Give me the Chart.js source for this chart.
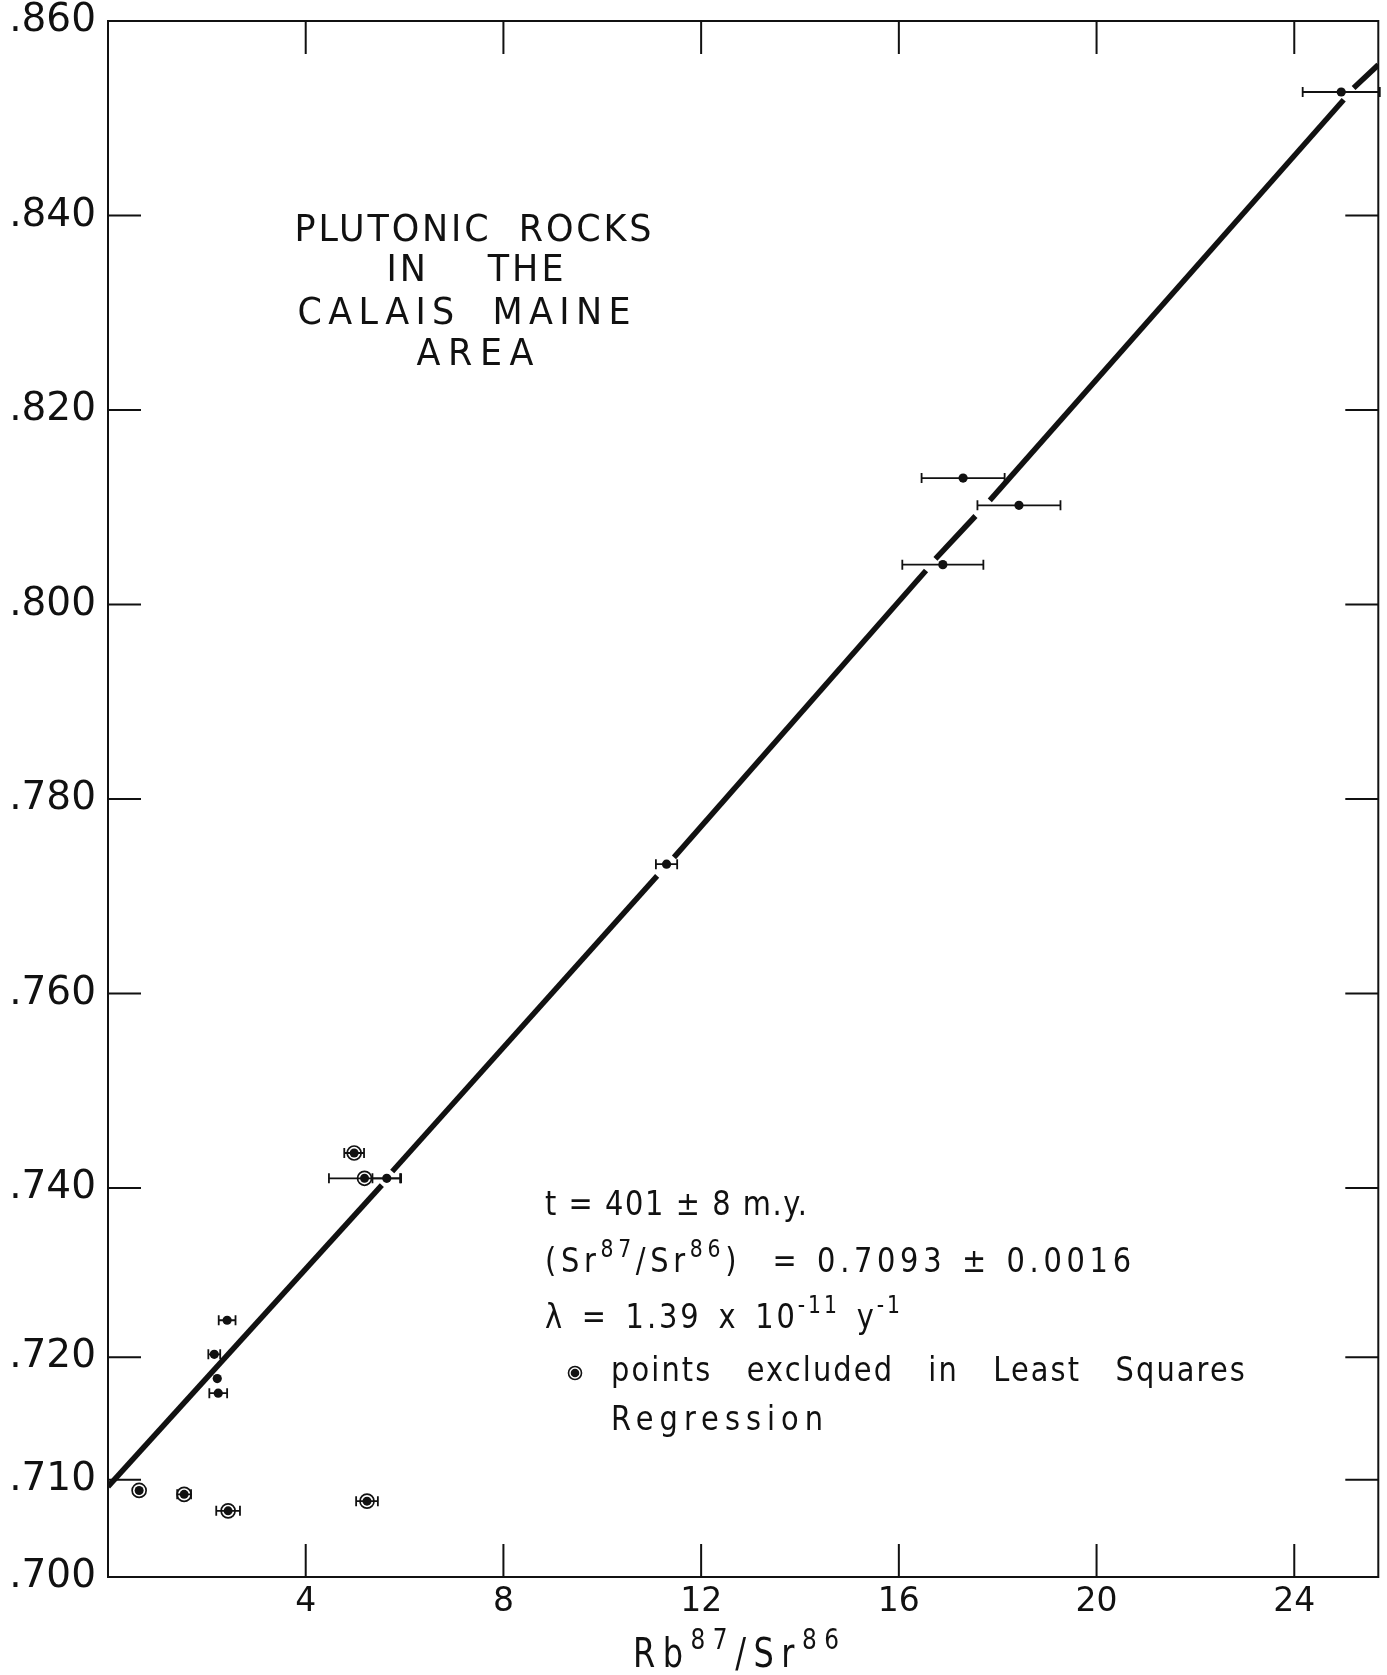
<!DOCTYPE html>
<html>
<head>
<meta charset="utf-8">
<script src="https://cdn.jsdelivr.net/npm/chart.js@4.4.1/dist/chart.umd.min.js"></script>
<style>
  html, body { margin: 0; padding: 0; background: #fff; }
  canvas { display: block; }
</style>
</head>
<body>
<canvas id="isochron" width="1387" height="1675"></canvas>
<script>
// Rb87/Sr86 vs Sr87/Sr86 isochron - plutonic rocks, Calais, Maine

// axis ticks (the .720 tick sits a little high on the original drawing)
const yTickValues = [0.700, 0.710, 0.7226, 0.740, 0.760, 0.780, 0.800, 0.820, 0.840, 0.860];
const yTickLabels = ['.700', '.710', '.720', '.740', '.760', '.780', '.800', '.820', '.840', '.860'];
const xTickValues = [4, 8, 12, 16, 20, 24];
const xTickLabels = ['4', '8', '12', '16', '20', '24'];

// samples used in the regression
const usedX   = [24.95, 17.30, 18.43, 16.89, 11.30, 5.64, 2.41, 2.15, 2.21, 2.23];
const usedY   = [0.8527, 0.8130, 0.8102, 0.8041, 0.7733, 0.7410, 0.7264, 0.7229, 0.7204, 0.7189];
const usedErr = [0.78, 0.84, 0.84, 0.82, 0.215, 0.29, 0.17, 0.12, 0, 0.18];

// samples left out of the least squares fit
const exclX   = [0.63, 1.54, 2.43, 4.98, 5.19, 5.24];
const exclY   = [0.7089, 0.7085, 0.7068, 0.7436, 0.7410, 0.7078];
const exclErr = [0, 0.14, 0.24, 0.20, 0.72, 0.22];

// fitted isochron, drawn in pieces (the original leaves gaps near some points)
const fitFromX = [0, 5.75, 11.45, 16.74, 17.84, 25.2];
const fitFromY = [0.7093, 0.7417, 0.7740, 0.8047, 0.8107, 0.8531];
const fitToX   = [5.54, 11.11, 16.55, 17.55, 25.0, 25.7];
const fitToY   = [0.7403, 0.7721, 0.8035, 0.8091, 0.8519, 0.8555];

// text on the plot
const titleLines = ['PLUTONIC ROCKS', 'IN THE', 'CALAIS MAINE', 'AREA'];
const noteLines = [
  [['t = 401 ± 8 m.y.']],
  [['(Sr'], ['87', true], ['/Sr'], ['86', true], [')  = 0.7093 ± 0.0016']],
  [['λ = 1.39 x 10'], ['-11', true], [' y'], ['-1', true]],
  [['points excluded in Least Squares']],
  [['Regression']]
];
const xTitle = [['Rb'], ['87', true], ['/Sr'], ['86', true]];

const INK = '#111';

// where the text goes (gap = how wide a word space is, times normal)
const titleLayout = [
  { cx: 473, base: 241, w: 357, gap: 2.2 },
  { cx: 475, base: 281, w: 177, gap: 5 },
  { cx: 464, base: 324, w: 333, gap: 2.3 },
  { cx: 475, base: 365, w: 117, gap: 1 }
];
const noteLayout = [
  { left: 545, base: 1215, w: 262, gap: 1 },
  { left: 545, base: 1272, w: 586, gap: 1.2 },
  { left: 545, base: 1328, w: 355, gap: 1.5 },
  { left: 611, base: 1381, w: 634, gap: 3.5 },
  { left: 611, base: 1430, w: 212, gap: 1 }
];

function font(size) {
  return size + 'px "DejaVu Sans", "Liberation Sans", sans-serif';
}

// draw a line of text (some parts raised as superscripts), squeezed
// horizontally and spread out with letter spacing to cover the width
function drawLine(ctx, parts, left, base, width, size, squeeze, gapFactor) {
  const supSize = Math.round(size * 0.72);
  const toks = [];
  parts.forEach(([t, sup]) => {
    t.split(/( )/).forEach(s => { if (s) toks.push({ t: s, sup: !!sup, space: s === ' ' }); });
  });
  ctx.save();
  ctx.letterSpacing = '0px';
  let wLetters = 0, nChars = 0, spaceW = 0, nSp = 0;
  toks.forEach(k => {
    ctx.font = font(k.sup ? supSize : size);
    if (k.space) { spaceW = ctx.measureText(' ').width; nSp++; return; }
    wLetters += ctx.measureText(k.t).width;
    nChars += [...k.t].length;
  });
  const gapW = spaceW * gapFactor;
  const ls = (width / squeeze - wLetters - nSp * gapW) / Math.max(nChars + nSp - 1, 1);
  ctx.letterSpacing = ls.toFixed(2) + 'px';
  ctx.translate(left, base);
  ctx.scale(squeeze, 1);
  ctx.textAlign = 'left';
  ctx.textBaseline = 'alphabetic';
  let cx = 0;
  toks.forEach(k => {
    if (k.space) { cx += gapW + ls; return; }
    ctx.font = font(k.sup ? supSize : size);
    ctx.fillText(k.t, cx, k.sup ? -size * 0.45 : 0);
    cx += ctx.measureText(k.t).width;
  });
  ctx.restore();
}

const errorBars = {
  id: 'errorBars',
  beforeDatasetsDraw(chart) {
    const { ctx, scales: { x, y } } = chart;
    ctx.save();
    ctx.strokeStyle = INK;
    ctx.lineWidth = 1.8;
    chart.data.datasets.forEach(ds => {
      if (!ds.errors) return;
      ds.data.forEach((p, i) => {
        const e = ds.errors[i];
        if (!e) return;
        const x0 = x.getPixelForValue(p.x - e);
        const x1 = x.getPixelForValue(p.x + e);
        const py = y.getPixelForValue(p.y);
        ctx.beginPath();
        ctx.moveTo(x0, py); ctx.lineTo(x1, py);
        ctx.moveTo(x0, py - 5); ctx.lineTo(x0, py + 5);
        ctx.moveTo(x1, py - 5); ctx.lineTo(x1, py + 5);
        ctx.stroke();
      });
    });
    ctx.restore();
  }
};

const frame = {
  id: 'frame',
  beforeDraw(chart) {
    const ctx = chart.ctx;
    ctx.save();
    ctx.fillStyle = '#fff';
    ctx.fillRect(0, 0, chart.width, chart.height);
    ctx.restore();
  },
  afterDraw(chart) {
    const { ctx, chartArea: a, scales: { x, y } } = chart;
    ctx.save();
    ctx.strokeStyle = INK;
    ctx.lineWidth = 2;
    ctx.strokeRect(a.left, a.top, a.right - a.left, a.bottom - a.top);
    // inward ticks on all four sides
    ctx.beginPath();
    y.ticks.forEach(t => {
      const py = y.getPixelForValue(t.value);
      ctx.moveTo(a.left, py); ctx.lineTo(a.left + 33, py);
      ctx.moveTo(a.right, py); ctx.lineTo(a.right - 33, py);
    });
    x.ticks.forEach(t => {
      const px = x.getPixelForValue(t.value);
      ctx.moveTo(px, a.bottom); ctx.lineTo(px, a.bottom - 33);
      ctx.moveTo(px, a.top); ctx.lineTo(px, a.top + 33);
    });
    ctx.stroke();

    ctx.fillStyle = INK;
    titleLines.forEach((t, i) => {
      const L = titleLayout[i];
      drawLine(ctx, [[t]], L.cx - L.w / 2, L.base, L.w, 38, 0.92, L.gap);
    });
    noteLines.forEach((parts, i) => {
      const L = noteLayout[i];
      drawLine(ctx, parts, L.left, L.base, L.w, 34, 0.85, L.gap);
    });
    // legend marker for excluded points
    ctx.beginPath();
    ctx.arc(575, 1373, 6.5, 0, Math.PI * 2);
    ctx.lineWidth = 1.6;
    ctx.stroke();
    ctx.beginPath();
    ctx.arc(575, 1373, 4.3, 0, Math.PI * 2);
    ctx.fill();

    // x axis title with superscripts
    drawLine(ctx, xTitle, 633, 1667, 206, 40, 0.8, 1);
    ctx.restore();
  }
};

const fitSets = fitFromX.map((fx, i) => ({
  type: 'line',
  data: [{ x: fx, y: fitFromY[i] }, { x: fitToX[i], y: fitToY[i] }],
  borderColor: INK,
  borderWidth: 5.5,
  borderCapStyle: 'butt',
  pointRadius: 0,
  fill: false,
  order: 3
}));

const exclPoints = exclX.map((v, i) => ({ x: v, y: exclY[i] }));

new Chart(document.getElementById('isochron'), {
  type: 'scatter',
  data: {
    datasets: [
      {
        data: usedX.map((v, i) => ({ x: v, y: usedY[i] })),
        errors: usedErr,
        pointRadius: 4.6,
        backgroundColor: INK,
        borderWidth: 0,
        order: 0
      },
      {
        data: exclPoints,
        errors: exclErr,
        pointRadius: 7,
        backgroundColor: 'rgba(0,0,0,0)',
        borderColor: INK,
        borderWidth: 1.7,
        order: 1
      },
      {
        data: exclPoints,
        pointRadius: 4.5,
        backgroundColor: INK,
        borderWidth: 0,
        order: 0
      },
      ...fitSets
    ]
  },
  options: {
    responsive: false,
    animation: false,
    events: [],
    layout: { padding: { top: 21, right: 4, left: 0, bottom: 0 } },
    plugins: { legend: { display: false }, tooltip: { enabled: false } },
    scales: {
      x: {
        type: 'linear',
        min: 0,
        max: 25.7,
        grid: { display: false, drawTicks: false },
        border: { display: false },
        afterBuildTicks: s => { s.ticks = xTickValues.map(v => ({ value: v })); },
        afterFit: s => { s.height = 98; s.paddingLeft = 0; s.paddingRight = 0; },
        ticks: {
          callback: (v, i) => xTickLabels[i],
          color: INK,
          padding: 6,
          maxRotation: 0,
          font: { family: '"DejaVu Sans", sans-serif', size: 33 }
        }
      },
      y: {
        type: 'linear',
        min: 0.700,
        max: 0.860,
        grid: { display: false, drawTicks: false },
        border: { display: false },
        afterBuildTicks: s => { s.ticks = yTickValues.map(v => ({ value: v })); },
        afterFit: s => { s.width = 108; s.paddingTop = 0; s.paddingBottom = 0; },
        ticks: {
          callback: (v, i) => yTickLabels[i],
          color: INK,
          padding: 12,
          font: { family: '"DejaVu Sans", sans-serif', size: 39 }
        }
      }
    }
  },
  plugins: [frame, errorBars]
});
</script>
</body>
</html>
